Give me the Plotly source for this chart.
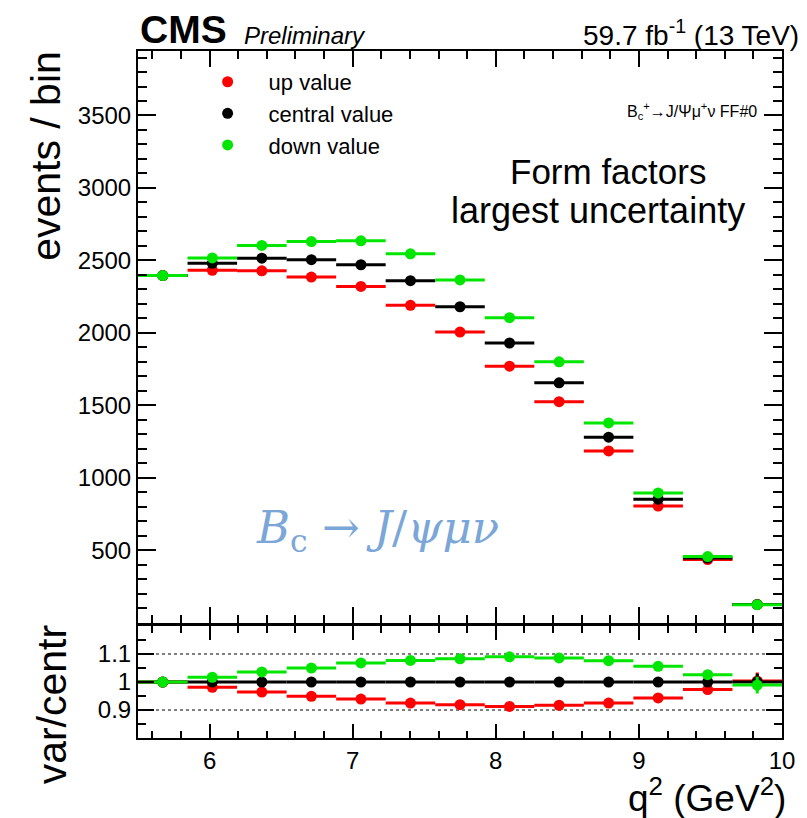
import plotly.graph_objects as go

# ---------------- data ----------------
bin_edges = [5.5 + i * 4.5 / 13 for i in range(14)]
bin_centers = [(bin_edges[i] + bin_edges[i + 1]) / 2 for i in range(13)]
bin_half = [(bin_edges[i + 1] - bin_edges[i]) / 2 for i in range(13)]

up_value = [2395, 2432, 2428, 2385, 2320, 2190, 2005, 1770, 1525, 1185, 805, 435, 126]
central_value = [2395, 2480, 2515, 2505, 2470, 2360, 2180, 1930, 1655, 1280, 852, 446, 125]
down_value = [2395, 2517, 2603, 2630, 2635, 2545, 2365, 2105, 1800, 1378, 895, 456, 124]
stat_err = [16, 16, 17, 17, 16, 16, 15, 15, 13, 12, 10, 7, 4]

ratio_up = [1.0, 0.981, 0.964, 0.949, 0.939, 0.925, 0.919, 0.913, 0.917, 0.925, 0.943, 0.973, 1.004]
ratio_central = [1.0] * 13
ratio_down = [1.0, 1.017, 1.036, 1.050, 1.068, 1.077, 1.083, 1.090, 1.086, 1.076, 1.056, 1.026, 0.989]
ratio_err = [0.007, 0.007, 0.007, 0.007, 0.007, 0.007, 0.007, 0.008, 0.009, 0.01, 0.012, 0.016, 0.03]

series = [
    ("up value", up_value, ratio_up, "#ff0000"),
    ("central value", central_value, ratio_central, "#000000"),
    ("down value", down_value, ratio_down, "#00e600"),
]

FONT = "Liberation Sans, Arial, Helvetica, sans-serif"

fig = go.Figure()
for name, vals, rvals, col in series:
    fig.add_trace(go.Scatter(
        x=bin_centers, y=vals, mode="markers", name=name,
        legendgroup=name,
        marker=dict(color=col, size=11, symbol="circle"),
        error_x=dict(type="data", array=bin_half, color=col, thickness=3, width=0),
        error_y=dict(type="data", array=stat_err, color=col, thickness=3, width=0),
        xaxis="x", yaxis="y",
    ))
for name, vals, rvals, col in series:
    fig.add_trace(go.Scatter(
        x=bin_centers, y=rvals, mode="markers", name=name, showlegend=False,
        marker=dict(color=col, size=11, symbol="circle"),
        error_x=dict(type="data", array=bin_half, color=col, thickness=3, width=0),
        error_y=dict(type="data", array=ratio_err, color=col, thickness=3, width=0),
        xaxis="x2", yaxis="y2",
    ))

axis_common = dict(
    showline=True, linecolor="black", linewidth=2, mirror="allticks",
    ticks="inside", tickcolor="black", tickwidth=2, showgrid=False, zeroline=False,
    tickfont=dict(family=FONT, size=24, color="black"),
)
minor_common = dict(ticks="inside", tickcolor="black", tickwidth=2)

fig.update_layout(
    width=799, height=810,
    margin=dict(l=130, r=20, t=43, b=80),
    plot_bgcolor="white", paper_bgcolor="white",
    xaxis=dict(**axis_common, domain=[0, 1], anchor="y", range=[5.5, 10],
               tick0=5, dtick=1, ticklen=16, showticklabels=False, matches="x2",
               minor=dict(dtick=0.2, tick0=5, ticklen=8, **minor_common)),
    yaxis=dict(**axis_common, domain=[0.168, 1], anchor="x", range=[0.5, 3945],
               tick0=0, dtick=500, ticklen=18,
               minor=dict(dtick=100, tick0=0, ticklen=9, **minor_common)),
    xaxis2=dict(**axis_common, domain=[0, 1], anchor="y2", range=[5.5, 10],
                tick0=5, dtick=1, ticklen=14,
                minor=dict(dtick=0.2, tick0=5, ticklen=7, **minor_common)),
    yaxis2=dict(**axis_common, domain=[0, 0.163], anchor="x2", range=[0.8001, 1.1999],
                tick0=0.8, dtick=0.1, ticklen=16,
                minor=dict(dtick=0.05, tick0=0.8, ticklen=8, **minor_common)),
    legend=dict(x=0.0755, y=0.9855, xanchor="left", yanchor="top",
                font=dict(family=FONT, size=22, color="black"),
                bgcolor="rgba(0,0,0,0)", tracegroupgap=0, traceorder="grouped",
                itemwidth=72),
    showlegend=True,
)

# dotted reference lines in ratio panel
for yv in [0.9, 1.1]:
    fig.add_shape(type="line", xref="x2 domain", yref="y2", x0=0, x1=1, y0=yv, y1=yv,
                  line=dict(color="black", width=1, dash="dot"), layer="below")

ann = []
ann.append(dict(text="<b>CMS</b>", x=0.0, y=1.031, xref="paper", yref="paper",
                xanchor="left", yanchor="middle", showarrow=False,
                font=dict(family=FONT, size=39, color="black")))
ann.append(dict(text="<i>Preliminary</i>", x=0.162, y=1.023, xref="paper", yref="paper",
                xanchor="left", yanchor="middle", showarrow=False,
                font=dict(family=FONT, size=24, color="black")))
ann.append(dict(text="59.7 fb<sup>-1</sup> (13 TeV)", x=1.03, y=1.026, xref="paper", yref="paper",
                xanchor="right", yanchor="middle", showarrow=False,
                font=dict(family=FONT, size=28, color="black")))
ann.append(dict(text="B<sub>c</sub><sup>+</sup>→J/Ψμ<sup>+</sup>ν FF#0", x=0.965, y=3530, xref="paper", yref="y",
                xanchor="right", yanchor="middle", showarrow=False,
                font=dict(family=FONT, size=16, color="black")))
ann.append(dict(text="Form factors", x=0.730, y=3112, xref="paper", yref="y",
                xanchor="center", yanchor="middle", showarrow=False,
                font=dict(family=FONT, size=35, color="black")))
ann.append(dict(text="largest uncertainty", x=0.714, y=2843, xref="paper", yref="y",
                xanchor="center", yanchor="middle", showarrow=False,
                font=dict(family=FONT, size=36, color="black")))
ann.append(dict(text="<i>B</i><sub>c</sub> → <i>J</i>/<i>ψμν</i>", x=0.372, y=640, xref="paper", yref="y",
                xanchor="center", yanchor="middle", showarrow=False,
                font=dict(family="DejaVu Serif, Liberation Serif, serif", size=45, color="#7ba6d8")))
ann.append(dict(text="events / bin", x=-0.143, y=1.003, xref="paper", yref="paper",
                xanchor="center", yanchor="top", textangle=-90, showarrow=False,
                font=dict(family=FONT, size=41, color="black")))
ann.append(dict(text="var/centr", x=-0.133, y=0.0495, xref="paper", yref="paper",
                xanchor="center", yanchor="middle", textangle=-90, showarrow=False,
                font=dict(family=FONT, size=41, color="black")))
ann.append(dict(text="q<sup>2</sup> (GeV<sup>2</sup>)", x=1.01, y=-0.083, xref="paper", yref="paper",
                xanchor="right", yanchor="middle", showarrow=False,
                font=dict(family=FONT, size=37, color="black")))
fig.update_layout(annotations=ann)

fig.write_html("out.html")
